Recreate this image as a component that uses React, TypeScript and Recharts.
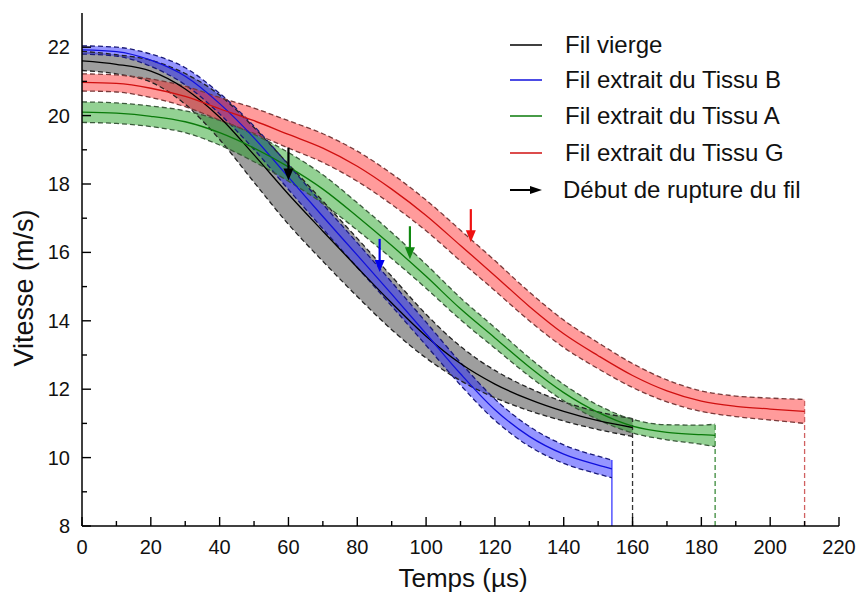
import { Area, ComposedChart, Line, ReferenceLine, Scatter, XAxis, YAxis } from 'recharts'

const FONT = '"Liberation Sans", Arial, Helvetica, sans-serif'

// Fil vierge
const tVierge = [0, 10, 20, 30, 40, 50, 60, 70, 80, 90, 100, 110, 120, 130, 140, 150, 160]
const vierge = [21.6, 21.5, 21.3, 20.78, 19.95, 18.85, 17.7, 16.62, 15.56, 14.52, 13.55, 12.75, 12.15, 11.7, 11.35, 11.08, 10.88]
const viergeLo = [21.32, 21.22, 20.98, 20.33, 19.3, 18.05, 16.82, 15.74, 14.71, 13.74, 12.91, 12.25, 11.75, 11.37, 11.07, 10.82, 10.62]
const viergeHi = [21.88, 21.78, 21.62, 21.23, 20.6, 19.65, 18.58, 17.5, 16.41, 15.3, 14.19, 13.25, 12.55, 12.03, 11.63, 11.34, 11.14]

// Fil extrait du Tissu B
const tB = [0, 10, 20, 30, 40, 50, 60, 70, 80, 90, 100, 110, 120, 130, 140, 150, 154]
const tissuB = [21.92, 21.87, 21.62, 21.15, 20.35, 19.35, 18.2, 17.05, 15.92, 14.78, 13.62, 12.45, 11.4, 10.62, 10.1, 9.78, 9.67]
const tissuBLo = [21.8, 21.74, 21.44, 20.9, 20.05, 19.01, 17.84, 16.69, 15.56, 14.43, 13.28, 12.12, 11.09, 10.33, 9.83, 9.52, 9.41]
const tissuBHi = [22.04, 22.0, 21.8, 21.4, 20.65, 19.69, 18.56, 17.41, 16.28, 15.13, 13.96, 12.78, 11.71, 10.91, 10.37, 10.04, 9.93]

// Fil extrait du Tissu A
const tA = [0, 10, 20, 30, 40, 50, 60, 70, 80, 90, 100, 110, 120, 130, 140, 150, 160, 170, 180, 184]
const tissuA = [20.1, 20.07, 19.98, 19.82, 19.5, 19.05, 18.5, 17.85, 17.05, 16.2, 15.3, 14.35, 13.5, 12.65, 11.9, 11.32, 10.92, 10.74, 10.67, 10.65]
const tissuALo = [19.8, 19.77, 19.68, 19.5, 19.14, 18.65, 18.08, 17.43, 16.65, 15.82, 14.95, 14.03, 13.2, 12.38, 11.66, 11.11, 10.72, 10.52, 10.39, 10.32]
const tissuAHi = [20.4, 20.37, 20.28, 20.14, 19.86, 19.45, 18.92, 18.27, 17.45, 16.58, 15.65, 14.67, 13.8, 12.92, 12.14, 11.53, 11.12, 10.96, 10.95, 10.98]

// Fil extrait du Tissu G
const tG = [0, 10, 20, 30, 40, 50, 60, 70, 80, 90, 100, 110, 120, 130, 140, 150, 160, 170, 180, 190, 200, 210]
const tissuG = [20.97, 20.94, 20.8, 20.56, 20.2, 19.85, 19.45, 19.05, 18.52, 17.85, 17.08, 16.2, 15.32, 14.42, 13.62, 12.98, 12.4, 11.95, 11.65, 11.5, 11.42, 11.35]
const tissuGLo = [20.72, 20.69, 20.53, 20.26, 19.87, 19.48, 19.05, 18.63, 18.08, 17.4, 16.63, 15.75, 14.88, 14.0, 13.22, 12.6, 12.05, 11.63, 11.35, 11.2, 11.1, 11.0]
const tissuGHi = [21.22, 21.19, 21.07, 20.86, 20.53, 20.22, 19.85, 19.47, 18.96, 18.3, 17.53, 16.65, 15.76, 14.84, 14.02, 13.36, 12.75, 12.27, 11.95, 11.8, 11.74, 11.7]

// Début de rupture du fil (arrow tips)
const arrowT = [60, 86.5, 95.3, 113]
const arrowV = [18.1, 15.43, 15.8, 16.3]
const arrowColors = ['#000000', '#0000ee', '#118811', '#ee1111']

const xTicks = [0, 10, 20, 30, 40, 50, 60, 70, 80, 90, 100, 110, 120, 130, 140, 150, 160, 170, 180, 190, 200, 210, 220]
const yTicks = [8, 9, 10, 11, 12, 13, 14, 15, 16, 17, 18, 19, 20, 21, 22]

const series = [
  { key: 'v', name: 'Fil vierge', t: tVierge, mid: vierge, lo: viergeLo, hi: viergeHi, line: '#000000', fill: '#000000', fillOpacity: 0.38, edge: '#222222', drop: '#333333', dropDash: '5 3' },
  { key: 'b', name: 'Fil extrait du Tissu B', t: tB, mid: tissuB, lo: tissuBLo, hi: tissuBHi, line: '#1010dd', fill: '#2222ff', fillOpacity: 0.48, edge: '#1a1a7a', drop: '#3a3aff', dropDash: undefined },
  { key: 'a', name: 'Fil extrait du Tissu A', t: tA, mid: tissuA, lo: tissuALo, hi: tissuAHi, line: '#0a7a0a', fill: '#1e9e1e', fillOpacity: 0.48, edge: '#3b5a3b', drop: '#3a8a3a', dropDash: '5 3' },
  { key: 'g', name: 'Fil extrait du Tissu G', t: tG, mid: tissuG, lo: tissuGLo, hi: tissuGHi, line: '#d01010', fill: '#ff2222', fillOpacity: 0.45, edge: '#7a3a3a', drop: '#d06060', dropDash: '5 3' },
]

// merge all series into one table keyed by time
const allT = Array.from(new Set([...tVierge, ...tB, ...tA, ...tG])).sort((p, q) => p - q)
const rows = allT.map((t) => {
  const row: Record<string, number> = { t }
  series.forEach((s) => {
    const i = s.t.indexOf(t)
    if (i >= 0) {
      row[s.key + 'Mid'] = s.mid[i]
      row[s.key + 'Lo'] = s.lo[i]
      row[s.key + 'Hi'] = s.hi[i]
    }
  })
  return row
})

const arrows = arrowT.map((t, i) => ({ t, y: arrowV[i], color: arrowColors[i] }))

function BottomTick(props: any) {
  const { x, y, payload } = props
  const major = payload.value % 20 === 0
  return (
    <g>
      <line x1={x} x2={x} y1={y} y2={y - (major ? 9 : 5)} stroke='#000' strokeWidth={1.4} />
      {major && (
        <text x={x} y={y + 28} textAnchor='middle' fontSize={20} fontFamily={FONT} fill='#111'>
          {payload.value}
        </text>
      )}
    </g>
  )
}

function TopTick(props: any) {
  const { x, y, payload } = props
  const major = payload.value % 20 === 0
  return <line x1={x} x2={x} y1={y} y2={y + (major ? 9 : 5)} stroke='#000' strokeWidth={1.4} />
}

function LeftTick(props: any) {
  const { x, y, payload } = props
  const major = payload.value % 2 === 0
  return (
    <g>
      <line x1={x} x2={x + (major ? 9 : 5)} y1={y} y2={y} stroke='#000' strokeWidth={1.4} />
      {major && (
        <text x={x - 12} y={y} dy='0.35em' textAnchor='end' fontSize={20} fontFamily={FONT} fill='#111'>
          {payload.value}
        </text>
      )}
    </g>
  )
}

function RightTick(props: any) {
  const { x, y, payload } = props
  const major = payload.value % 2 === 0
  return <line x1={x} x2={x - (major ? 9 : 6)} y1={y} y2={y} stroke='#000' strokeWidth={1.4} />
}

function ArrowShape(props: any) {
  const { cx, cy, payload } = props
  const c = payload.color
  return (
    <g>
      <line x1={cx} x2={cx} y1={cy - 33} y2={cy - 10} stroke={c} strokeWidth={2.2} />
      <path d={`M${cx - 5},${cy - 12} L${cx + 5},${cy - 12} L${cx},${cy} Z`} fill={c} />
    </g>
  )
}

const legendRows = [45, 80, 116, 153, 190]

function LegendBox() {
  return (
    <svg width={858} height={594} style={{ position: 'absolute', left: 0, top: 0, pointerEvents: 'none' }}>
      {series.map((s, i) => (
        <g key={s.key}>
          <line x1={510} x2={542} y1={legendRows[i]} y2={legendRows[i]} stroke={s.line} strokeWidth={1.5} />
          <text x={565} y={legendRows[i]} dy='0.35em' fontSize={24} fontFamily={FONT} fill='#111'>
            {s.name}
          </text>
        </g>
      ))}
      <line x1={510} x2={532} y1={legendRows[4]} y2={legendRows[4]} stroke='#000' strokeWidth={2} />
      <path d={`M530,${legendRows[4] - 4} L542,${legendRows[4]} L530,${legendRows[4] + 4} Z`} fill='#000' />
      <text x={563} y={legendRows[4]} dy='0.35em' fontSize={24} fontFamily={FONT} fill='#111'>
        Début de rupture du fil
      </text>
      <text x={463} y={587} textAnchor='middle' fontSize={26} fontFamily={FONT} fill='#111'>
        Temps (µs)
      </text>
      <text x={33} y={288} textAnchor='middle' fontSize={27} fontFamily={FONT} fill='#111' transform='rotate(-90 33 288)'>
        Vitesse (m/s)
      </text>
    </svg>
  )
}

export default function App() {
  return (
    <div style={{ position: 'absolute', left: 0, top: 0, width: 858, height: 594, background: '#fff' }}>
      <ComposedChart width={858} height={594} data={rows} margin={{ top: 13, right: 19, bottom: 0, left: 0 }}>
        <XAxis
          dataKey='t'
          type='number'
          domain={[0, 220]}
          ticks={xTicks}
          interval={0}
          height={68}
          tickSize={0}
          tickMargin={0}
          tickLine={false}
          tick={<BottomTick />}
          axisLine={{ stroke: '#000', strokeWidth: 1.5 }}
          allowDataOverflow
        />
        <XAxis
          xAxisId='top'
          orientation='top'
          dataKey='t'
          type='number'
          domain={[0, 220]}
          ticks={xTicks}
          interval={0}
          height={0}
          tickSize={0}
          tickMargin={0}
          tickLine={false}
          tick={<TopTick />}
          axisLine={{ stroke: '#000', strokeWidth: 1.5 }}
          allowDataOverflow
        />
        <YAxis
          type='number'
          domain={[8, 23]}
          ticks={yTicks}
          interval={0}
          width={82}
          tickSize={0}
          tickMargin={0}
          tickLine={false}
          tick={<LeftTick />}
          axisLine={{ stroke: '#000', strokeWidth: 1.5 }}
          allowDataOverflow
        />
        <YAxis
          yAxisId='right'
          orientation='right'
          type='number'
          domain={[8, 23]}
          ticks={yTicks}
          interval={0}
          width={0}
          tickSize={0}
          tickMargin={0}
          tickLine={false}
          tick={<RightTick />}
          axisLine={{ stroke: '#000', strokeWidth: 1.5 }}
          allowDataOverflow
        />

        {series.map((s) => (
          <Area
            key={s.key + 'band'}
            type='monotone'
            dataKey={(d: any) => (d[s.key + 'Lo'] == null ? null : [d[s.key + 'Lo'], d[s.key + 'Hi']])}
            stroke='none'
            fill={s.fill}
            fillOpacity={s.fillOpacity}
            connectNulls
            dot={false}
            activeDot={false}
            isAnimationActive={false}
          />
        ))}

        {series.map((s) => (
          <ReferenceLine
            key={s.key + 'drop'}
            segment={[
              { x: s.t[s.t.length - 1], y: 8 },
              { x: s.t[s.t.length - 1], y: s.hi[s.hi.length - 1] },
            ]}
            stroke={s.drop}
            strokeWidth={1.3}
            strokeDasharray={s.dropDash}
          />
        ))}

        {series.map((s) =>
          ['Lo', 'Hi'].map((edge) => (
            <Line
              key={s.key + edge}
              type='monotone'
              dataKey={s.key + edge}
              stroke={s.edge}
              strokeWidth={1.3}
              strokeDasharray='5 3'
              dot={false}
              activeDot={false}
              connectNulls
              isAnimationActive={false}
            />
          ))
        )}

        {series.map((s) => (
          <Line
            key={s.key + 'mid'}
            type='monotone'
            dataKey={s.key + 'Mid'}
            stroke={s.line}
            strokeWidth={1.3}
            dot={false}
            activeDot={false}
            connectNulls
            isAnimationActive={false}
          />
        ))}

        <Scatter data={arrows} dataKey='y' shape={<ArrowShape />} isAnimationActive={false} />
      </ComposedChart>
      <LegendBox />
    </div>
  )
}
